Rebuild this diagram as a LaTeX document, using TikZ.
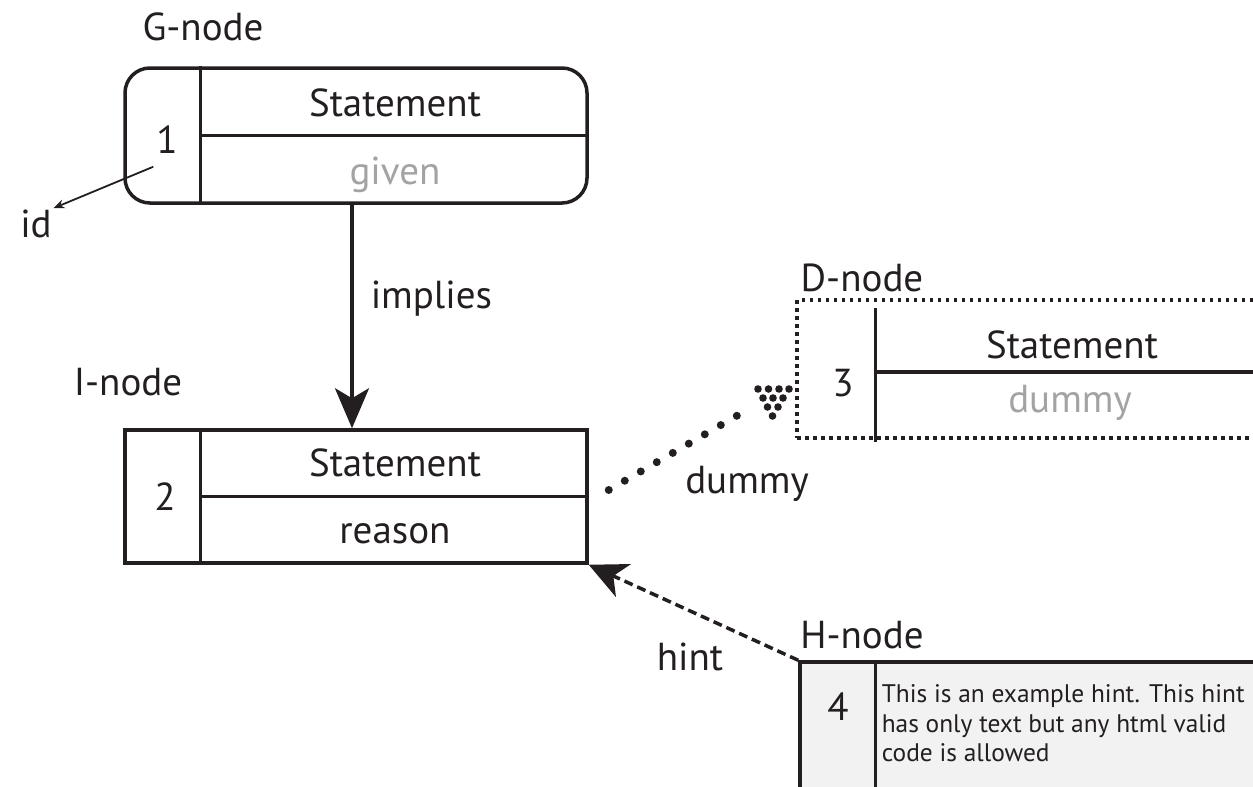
\documentclass[tikz,border=0pt]{standalone}
\usepackage{fontspec}
\setmainfont{PT Sans}
\usetikzlibrary{arrows.meta,calc}
\definecolor{ink}{HTML}{231F20}
\definecolor{faint}{HTML}{A3A3A3}
\definecolor{hintbg}{HTML}{F2F2F2}
\begin{document}
\begin{tikzpicture}[x=1pt,y=-1pt,line width=3.5pt,draw=ink,
  txt/.style={font=\fontsize{39}{44}\selectfont,text=ink,inner sep=0pt,anchor=base},
  pale/.style={txt,text=faint},
  small/.style={font=\fontsize{25.4}{29.5}\selectfont,text=ink,inner sep=0pt,align=left,anchor=north west},
  card/.style={draw=ink,inner sep=0pt,minimum width=462pt,minimum height=#1},
  dotline/.style={line width=3.5pt,dash pattern=on 3.5pt off 4.5pt},
  bigtip/.style={-{Stealth[length=40pt,width=34pt,inset=10pt]}},
]
\useasboundingbox (0,0) rectangle (1253,787);
\clip (0,0) rectangle (1253,787);

% G-node: given statement
\node[txt] (Glab) at (203,40) {G-node};
\node[card=135pt,rounded corners=25pt] (G) at (356,135.5) {};
\draw ($(G.north west)+(77,0)$) -- ($(G.south west)+(77,0)$);
\draw ($(G.west)+(77,0)$) -- (G.east);
\node[txt] (Gst) at (395,116) {Statement};
\node[pale] (Ggv) at (395,184) {given};
\node[txt] (Gid) at (167,153) {1};
\node[txt,anchor=center] (id) at (36,224) {id};

% I-node: implied statement
\node[txt] (Ilab) at (128,395) {I-node};
\node[card=133pt] (I) at (356,496.5) {};
\draw ($(I.north west)+(77,0)$) -- ($(I.south west)+(77,0)$);
\draw ($(I.west)+(77,0)$) -- (I.east);
\node[txt] (Ist) at (395,476) {Statement};
\node[txt] (Irs) at (395,543) {reason};
\node[txt] (Iid) at (165,510) {2};

% D-node: dummy statement
\node[txt] (Dlab) at (862,291) {D-node};
\node[draw=ink,dotline,inner sep=0pt,minimum width=503pt,minimum height=138pt] (D) at (1048.5,369) {};
\draw ($(D.north west)+(80,10)$) -- ($(D.south west)+(80,2)$);
\draw ($(D.west)+(80,3)$) -- ($(D.east)+(0,3)$);
\node[txt] (Dst) at (1072,358) {Statement};
\node[pale] (Ddm) at (1070,412) {dummy};
\node[txt] (Did) at (843,396) {3};

% H-node: hint
\node[txt] (Hlab) at (862,648) {H-node};
\node[draw=ink,fill=hintbg,inner sep=0pt,minimum width=500pt,minimum height=168pt] (H) at (1050,746) {};
\draw ($(H.north west)+(77,0)$) -- ($(H.south west)+(77,0)$);
\node[txt] (Hid) at (838,720) {4};
\node[small] (Htx) at (880,683) {This is an example hint. This hint\\has only text but any html valid\\code is allowed};

% connectors
\draw[bigtip] ([xshift=-4pt]G.south) -- node[txt,anchor=west,xshift=17pt,yshift=18pt] (impl) {implies} ([xshift=-4pt]I.north);
\draw[line width=1.8pt,-{Stealth[length=11pt,width=9pt]}] ($(G.south west)+(30,-38)$) -- (id.north east);

\coordinate (ds) at ($(I.east)+(20,-6.5)$);
\coordinate (de) at ($(D.west)+(-45,39)$);
\draw[line width=8pt,line cap=round,dash pattern=on 0pt off 18.5pt] (ds) -- (de);
\foreach \px/\py in {758/389,768.5/389,779/389,789/389,763/398,773/398,783/398,767.5/407,778/407,772.5/416}
  \fill[ink] (\px,\py) circle (3.8pt);
\node[txt] (dlbl) at (747,493) {dummy};

\draw[dash pattern=on 9pt off 5pt,-{Stealth[length=38pt,width=36pt,inset=11pt]}] (H.north west) -- (I.south east);
\node[txt] (hlbl) at (690,670) {hint};
\end{tikzpicture}
\end{document}
